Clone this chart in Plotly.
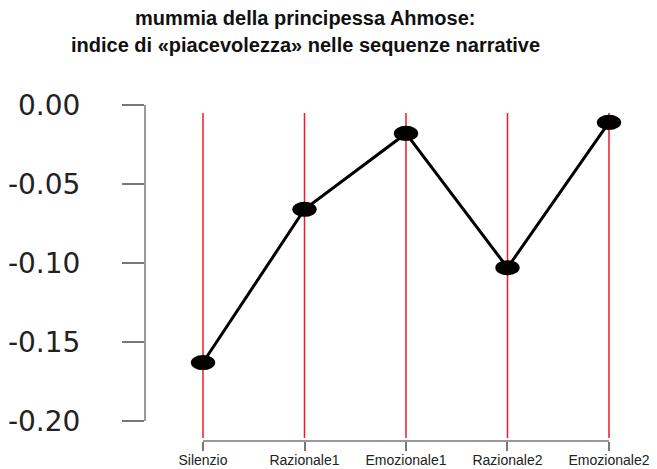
import plotly.graph_objects as go

categories = ["Silenzio", "Razionale1", "Emozionale1", "Razionale2", "Emozionale2"]
values = [-0.163, -0.066, -0.018, -0.103, -0.011]
y_ticks = [0.00, -0.05, -0.10, -0.15, -0.20]
y_tick_labels = ["0.00", "-0.05", "-0.10", "-0.15", "-0.20"]
title_lines = ["mummia della principessa Ahmose:", "indice di «piacevolezza» nelle sequenze narrative"]

xpos = list(range(len(categories)))

fig = go.Figure()
fig.add_trace(go.Scatter(
    x=xpos, y=values, mode="lines+markers",
    line=dict(color="black", width=3),
    marker=dict(color="black", size=14, symbol="circle"),
    showlegend=False, hoverinfo="skip",
))

shapes = []
# red vertical reference lines
for xv in xpos:
    shapes.append(dict(type="line", xref="x", yref="paper", x0=xv, x1=xv, y0=0.009, y1=0.962,
                       line=dict(color="#f01a22", width=1.5), layer="below"))
# ellipse markers
rx, ry = 0.12, 0.0048
for xv, yv in zip(xpos, values):
    shapes.append(dict(type="circle", xref="x", yref="y", x0=xv - rx, x1=xv + rx, y0=yv - ry, y1=yv + ry,
                       fillcolor="black", line=dict(color="black", width=0)))
# R-style axis lines
shapes.append(dict(type="line", xref="paper", yref="y", x0=0, x1=0, y0=min(y_ticks), y1=max(y_ticks),
                   line=dict(color="#777777", width=1.5)))
shapes.append(dict(type="line", xref="x", yref="paper", x0=xpos[0], x1=xpos[-1], y0=0, y1=0,
                   line=dict(color="#777777", width=1.5)))

# page body has an 8px margin, so the figure is offset by 8px
W, H = 649, 461
L, T, B, R = 137, 92, 28, 7
PW = W - L - R
PH = H - T - B
title_cx = (297 - L) / PW

fig.update_layout(
    width=W, height=H,
    margin=dict(l=L, r=R, t=T, b=B, autoexpand=False),
    paper_bgcolor="white", plot_bgcolor="white",
    shapes=shapes,
    xaxis=dict(range=[-0.5714, 4.404], tickmode="array", tickvals=xpos, ticktext=categories,
               showgrid=False, zeroline=False, showline=False, automargin=False,
               ticks="outside", ticklen=9, tickwidth=1.5, tickcolor="#777777",
               tickfont=dict(family="Liberation Sans", size=14, color="#222222"),
               ticklabelstandoff=-3),
    yaxis=dict(range=[-0.21266, 0.00316], tickmode="array", tickvals=y_ticks, ticktext=y_tick_labels,
               showgrid=False, zeroline=False, showline=False, automargin=False,
               ticks="outside", ticklen=22, tickwidth=1.5, tickcolor="#777777",
               tickfont=dict(family="DejaVu Sans", size=28, color="#222222"),
               ticklabelstandoff=36),
    annotations=[
        dict(text="<b>" + title_lines[0] + "</b>", xref="paper", yref="paper",
             x=title_cx, y=1 + (T - 10) / PH, xanchor="center", yanchor="middle",
             showarrow=False, font=dict(family="Liberation Sans", size=20, color="#111111")),
        dict(text="<b>" + title_lines[1] + "</b>", xref="paper", yref="paper",
             x=title_cx, y=1 + (T - 37) / PH, xanchor="center", yanchor="middle",
             showarrow=False, font=dict(family="Liberation Sans", size=20, color="#111111")),
    ],
)

fig.write_html("out.html")
